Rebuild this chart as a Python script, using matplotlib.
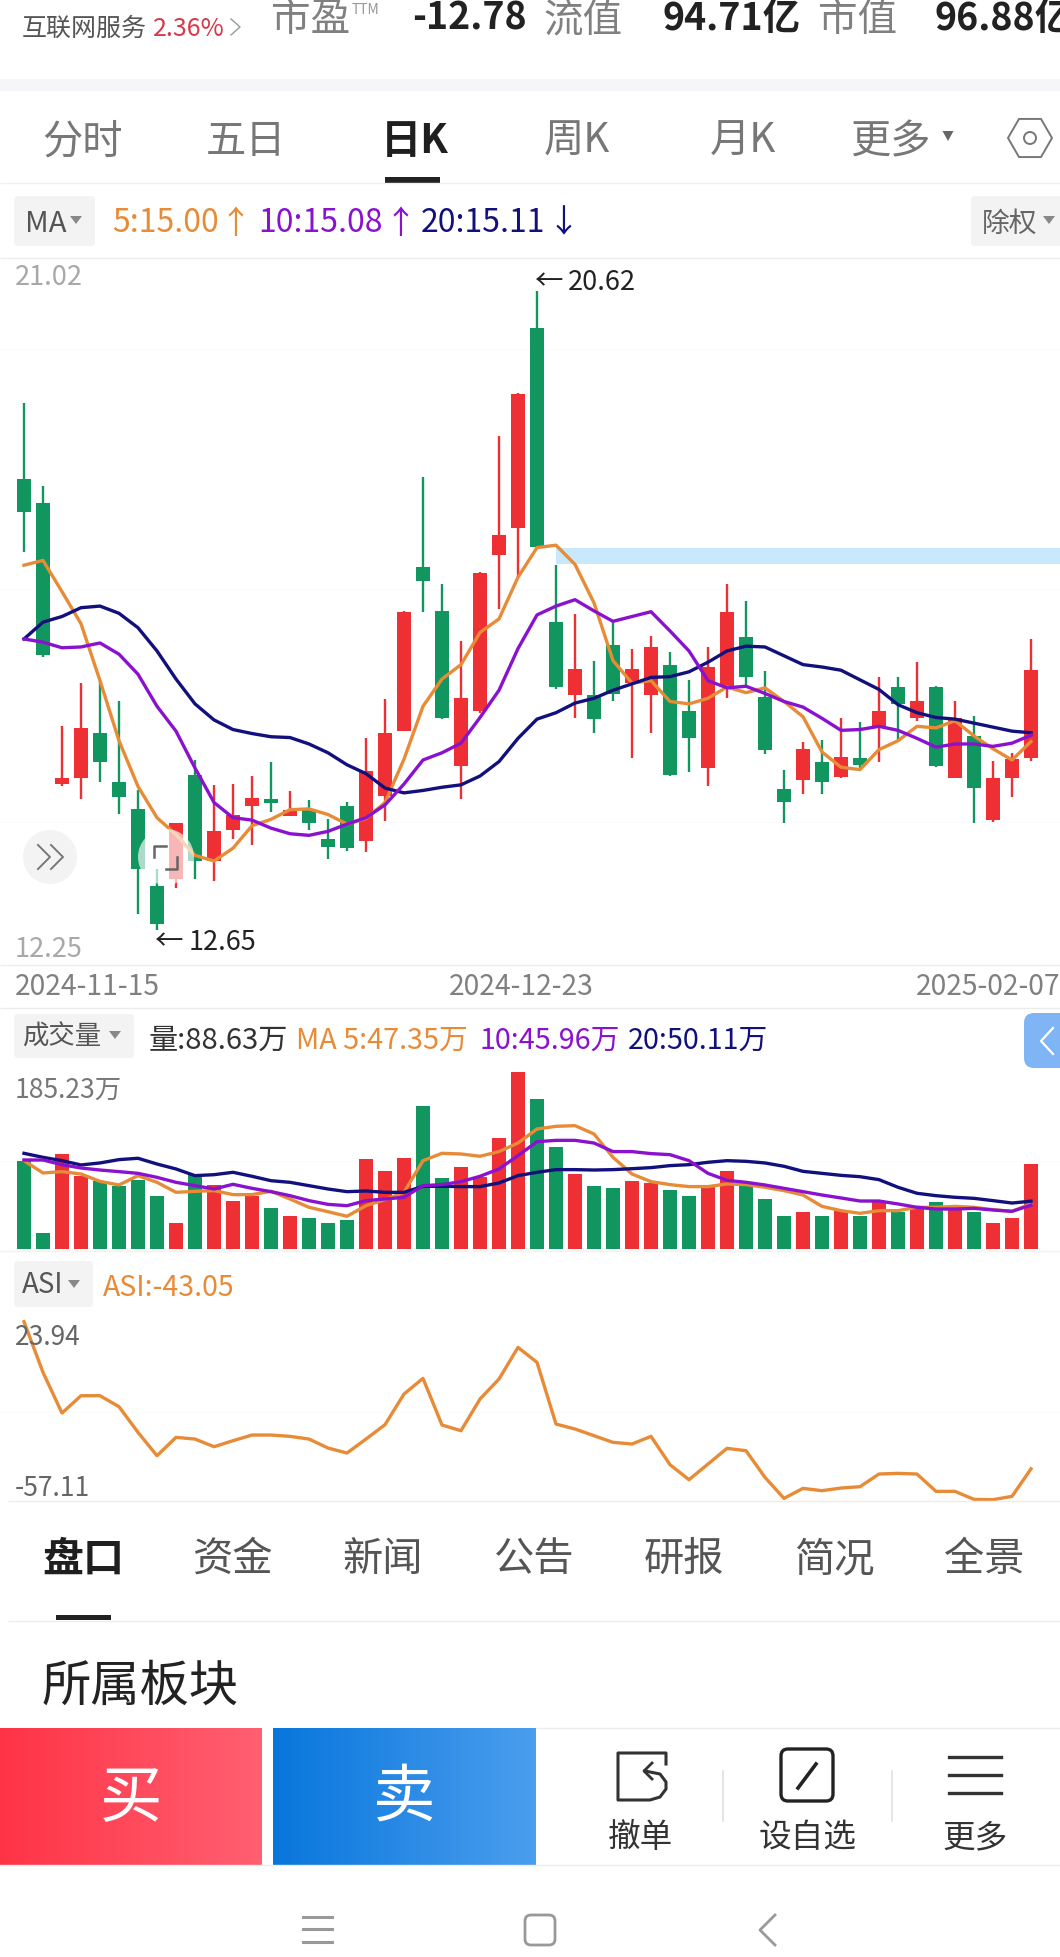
import numpy as np
import matplotlib
matplotlib.use("Agg")
import matplotlib.pyplot as plt
from matplotlib.patches import Rectangle, FancyBboxPatch, Polygon, Circle, RegularPolygon

plt.rcParams['font.family'] = ['Noto Sans CJK SC', 'DejaVu Sans']

# ---------- data ----------
opens = [18.28,17.98,14.47,14.55,15.11,14.50,14.16,13.20,13.28,14.58,13.51,13.90,14.19,14.28,14.07,14.16,13.79,14.19,13.76,14.32,15.13,17.18,16.63,14.69,15.38,17.33,17.67,
         20.16,16.49,15.58,15.58,16.21,15.73,15.58,15.96,15.38,14.67,15.68,16.31,15.56,14.41,14.52,14.75,14.56,14.79,15.18,15.68,15.30,15.68,14.55,15.07,14.02,14.55,14.79]
highs = [19.22,18.19,15.20,15.73,15.76,15.50,14.39,13.41,13.98,14.77,14.46,14.47,14.57,14.74,14.38,14.27,14.04,14.24,15.04,15.53,16.63,18.30,16.96,16.26,17.11,18.81,19.35,
         20.62,17.20,16.59,16.00,16.49,16.15,16.32,16.12,15.77,16.18,16.96,16.75,15.88,14.65,14.99,15.02,15.30,15.25,15.80,15.80,15.99,15.69,15.50,15.32,14.76,14.86,16.28]
lows = [17.36,16.05,14.45,14.28,14.50,14.10,12.85,12.65,13.17,13.29,13.26,13.78,13.71,14.12,14.07,13.90,13.54,13.64,13.62,14.01,15.13,16.62,15.28,14.28,15.36,16.65,17.05,
        17.42,15.66,15.30,15.11,15.51,14.80,15.11,14.57,14.62,14.45,15.54,15.70,14.85,13.98,14.34,14.34,14.54,14.64,14.75,15.02,15.26,14.68,14.54,13.98,14.00,14.31,14.76]
closes = [17.87,16.08,14.55,15.17,14.74,14.31,13.41,12.72,13.98,13.51,13.89,14.09,14.30,14.23,14.15,13.98,13.68,13.67,14.63,15.11,16.62,17.00,15.30,15.54,17.10,17.58,19.34,
          17.43,15.68,15.91,15.28,15.59,15.91,16.18,14.58,15.05,15.93,16.62,15.80,14.90,14.24,14.91,14.49,14.81,14.71,15.38,15.47,15.51,14.69,15.29,14.42,14.55,14.78,15.89]
ma5 = [17.20,17.26,16.87,16.47,15.76,15.01,14.44,14.05,13.84,13.58,13.51,13.67,13.95,14.03,14.15,14.16,14.09,13.97,14.04,14.24,14.78,15.44,15.78,15.96,16.36,16.53,17.05,
       17.42,17.45,17.21,16.73,16.01,15.73,15.76,15.50,15.47,15.54,15.68,15.61,15.67,15.50,15.31,14.87,14.68,14.65,14.90,15.01,15.19,15.17,15.26,15.07,14.91,14.77,15.00]
ma10 = [16.28,16.24,16.17,16.18,16.23,16.09,15.84,15.44,15.13,14.67,14.24,14.05,14.02,13.92,13.85,13.83,13.88,13.97,14.05,14.21,14.47,14.77,14.86,14.98,15.30,15.64,16.16,
        16.58,16.69,16.77,16.63,16.50,16.56,16.62,16.38,16.13,15.76,15.67,15.69,15.60,15.50,15.43,15.29,15.14,15.15,15.19,15.14,15.04,14.93,14.97,14.97,14.94,14.98,15.08]
ma20 = [16.28,16.49,16.56,16.67,16.69,16.60,16.42,16.13,15.78,15.47,15.27,15.15,15.10,15.06,15.05,14.97,14.86,14.71,14.60,14.42,14.36,14.39,14.43,14.46,14.57,14.75,15.04,
        15.28,15.36,15.48,15.54,15.64,15.72,15.80,15.81,15.87,15.99,16.13,16.19,16.18,16.07,15.96,15.93,15.89,15.77,15.65,15.46,15.36,15.30,15.28,15.23,15.18,15.13,15.11]
volume = [92.6,16.4,99.3,76.9,71.6,65.7,72.0,55.2,26.9,77.6,67.5,50.0,55.2,42.6,34.3,32.2,26.9,30.8,94.0,82.1,95.1,149.6,74.8,86.3,75.1,116.0,185.23,
          156.9,106.6,79.0,66.4,63.6,71.6,69.2,61.5,55.2,64.7,82.1,66.4,52.1,34.3,38.4,34.3,39.5,34.3,48.9,38.4,41.9,48.9,41.2,39.1,26.9,32.2,88.63]
vol_ma5 = [92.6,79.7,81.1,78.6,70.9,67.1,76.9,69.9,59.4,60.5,61.2,57.0,57.0,60.5,52.4,43.7,39.1,34.3,45.4,51.7,59.4,92.6,100.3,99.6,97.2,102.1,111.1,
           125.8,128.6,129.3,120.6,96.1,78.6,70.6,67.5,65.4,65.4,68.2,67.5,64.7,61.2,56.6,44.7,40.2,37.4,40.2,40.2,43.7,43.7,44.7,43.7,41.2,39.5,47.35]
vol_ma10 = [93.3,93.3,88.4,84.9,82.8,81.1,79.3,75.1,69.9,66.4,62.9,67.8,63.6,60.1,55.9,50.7,46.8,45.4,50.7,52.4,54.2,66.4,67.5,70.6,76.2,83.9,97.9,
            112.5,113.9,113.9,111.1,102.1,102.1,100.0,98.9,92.6,79.3,72.0,69.9,67.1,63.6,60.1,56.6,53.5,50.3,50.3,47.2,43.7,41.9,41.9,42.6,40.9,39.5,45.96]
vol_ma20 = [100.3,96.1,92.6,88.1,90.2,93.7,95.1,89.1,83.9,76.9,77.9,80.4,76.2,71.6,69.9,66.4,62.9,60.1,60.8,59.4,59.4,65.7,65.7,65.4,65.4,69.2,76.9,
            80.4,83.2,83.2,82.8,83.2,84.2,85.3,87.4,88.4,90.9,92.6,91.9,90.2,86.7,81.4,79.3,77.2,75.8,72.7,64.7,58.4,55.9,54.2,53.1,50.7,48.2,50.11]
asi = [23.94,0.87,-17.65,-9.76,-9.76,-14.76,-26.45,-37.08,-28.73,-29.49,-32.98,-30.25,-27.67,-27.67,-28.27,-29.49,-33.58,-35.86,-29.49,-22.96,-9.0,-1.86,-23.11,-25.69,-11.27,-2.17,12.25,
       5.42,-22.66,-24.93,-27.97,-31.0,-31.76,-28.27,-41.17,-48.0,-40.87,-33.74,-34.8,-46.94,-56.5,-51.95,-53.01,-51.8,-51.19,-45.42,-45.12,-45.42,-53.32,-53.32,-56.96,-57.11,-55.59,-43.05]
gap_band = (17.21, 17.41)
price_limits = (12.25, 21.02)
volume_max = 185.23
asi_limits = (-57.11, 23.94)
date_labels = ['2024-11-15', '2024-12-23', '2025-02-07']

RED, GREEN = '#ee2f33', '#12965f'
ORANGE, PURPLE, NAVY = '#e88b37', '#8a12cf', '#12107c'
W, H = 1060, 1958
X0, STEP = 24.0, 19.0
LINE_W = 2.4
xs = np.arange(len(closes))
xlim = (-X0 / STEP, (W - X0) / STEP)

fig = plt.figure(figsize=(W / 100, H / 100), dpi=100, facecolor='white')


def panel(top, bottom, ylim):
    ax = fig.add_axes([0, 1 - bottom / H, 1, (bottom - top) / H])
    ax.set_xlim(*xlim)
    ax.set_ylim(*ylim)
    ax.axis('off')
    ax.patch.set_alpha(0)
    return ax


colors = [RED if c >= o else GREEN for o, c in zip(opens, closes)]

# price panel
ax = panel(260, 963, price_limits)
for g in (14.0, 16.9, 19.9):
    ax.axhline(g, color='#fbfbfb', lw=0.6, zorder=0)
ax.fill_between([28, xlim[1]], gap_band[0], gap_band[1], color='#c8e8fb', lw=0, zorder=1)
ax.vlines(xs, lows, highs, colors=colors, lw=1.7, zorder=2)
bottoms = np.minimum(opens, closes)
heights = np.abs(np.array(closes) - np.array(opens))
ax.bar(xs, heights, bottom=bottoms, width=0.74, color=colors, lw=0, zorder=3)
ax.plot(xs, ma5, color=ORANGE, lw=LINE_W, zorder=4)
ax.plot(xs, ma20, color=NAVY, lw=LINE_W, zorder=5)
ax.plot(xs, ma10, color=PURPLE, lw=LINE_W, zorder=6)

# volume panel
av = panel(1073.3, 1250, (0, volume_max))
av.axhline(92, color='#fbfbfb', lw=0.6, zorder=0)
av.bar(xs, volume, width=0.74, color=colors, lw=0, zorder=2)
av.plot(xs, vol_ma5, color=ORANGE, lw=LINE_W, zorder=3, clip_on=False)
av.plot(xs, vol_ma20, color=NAVY, lw=LINE_W, zorder=4, clip_on=False)
av.plot(xs, vol_ma10, color=PURPLE, lw=LINE_W, zorder=5, clip_on=False)

# ASI panel
aa = panel(1322.7, 1500.7, asi_limits)
aa.axhline(-17, color='#fbfbfb', lw=0.6, zorder=0)
aa.plot(xs, asi, color=ORANGE, lw=LINE_W, zorder=3, clip_on=False)

# ---------- interface chrome, drawn in pixel space ----------
ui = fig.add_axes([0, 0, 1, 1], zorder=10)
ui.set_xlim(0, W)
ui.set_ylim(H, 0)
ui.axis('off')
ui.patch.set_alpha(0)

DY = 5.5


def t(x, y, s, size, color='#333333', ha='left', va='center', weight='normal', **kw):
    ui.text(x, y + DY, s, fontsize=size, color=color, ha=ha, va=va, fontweight=weight, **kw)


def rect(x0, y0, x1, y1, color, **kw):
    ui.add_patch(Rectangle((x0, y0), x1 - x0, y1 - y0, facecolor=color, edgecolor='none', **kw))


def hline(y, x0=0, x1=W, color='#ececec', lw=1.0):
    ui.plot([x0, x1], [y, y], color=color, lw=lw, solid_capstyle='butt')


def tri(cx, cy, w=12, h=8, color='#888888'):
    ui.add_patch(Polygon([(cx - w / 2, cy - h / 2), (cx + w / 2, cy - h / 2), (cx, cy + h / 2)], facecolor=color, edgecolor='none'))


def box(x0, y0, x1, y1, color='#f3f3f3', r=4, ec='none', lw=0, **kw):
    ui.add_patch(FancyBboxPatch((x0 + r, y0 + r), x1 - x0 - 2 * r, y1 - y0 - 2 * r, boxstyle=f'round,pad={r},rounding_size={r}',
                                facecolor=color, edgecolor=ec, lw=lw, **kw))


def gradient(x0, y0, x1, y1, c0, c1):
    rgb0 = np.array(matplotlib.colors.to_rgb(c0))
    rgb1 = np.array(matplotlib.colors.to_rgb(c1))
    f = np.linspace(0, 1, 256)[None, :, None]
    ui.imshow(rgb0 + (rgb1 - rgb0) * f, extent=(x0, x1, y1, y0), aspect='auto', zorder=1)


# top strip
t(22, 23, '互联网服务', 18, '#555555')
t(153, 23, '2.36%', 18, '#d8394a')
ui.plot([231, 240, 231], [20, 28, 36], color='#999999', lw=1)
t(271, 15, '市盈', 28.5, '#808080')
t(352, 4, 'TTM', 10, '#999999')
t(412, 13, '-12.78', 27, '#222222', weight='bold')
t(543, 15, '流值', 28.5, '#808080')
t(662, 13, '94.71亿', 27, '#222222', weight='bold')
t(818, 15, '市值', 28.5, '#808080')
t(935, 13, '96.88亿', 27, '#222222', weight='bold')
rect(0, 80, W, 92, '#f6f6f8')

# period tabs
for x, s in [(82, '分时'), (246, '五日'), (577, '周K'), (743, '月K'), (890, '更多')]:
    t(x, 136, s, 29, '#777777', ha='center')
t(415, 136, '日K', 29, '#1f1f1f', ha='center', weight='bold')
tri(948, 137, 11, 10, '#666666')
ui.add_patch(RegularPolygon((1030, 139), 6, radius=22, orientation=np.pi / 6, facecolor='none', edgecolor='#777777', lw=1.4))
ui.add_patch(Circle((1030, 139), 6, facecolor='none', edgecolor='#777777', lw=1.4))
rect(385, 178, 440, 184, '#222222')
hline(184, color='#f0f0f0')

# MA row
box(14, 197, 95, 247)
t(25, 219, 'MA', 21, '#555555')
tri(76, 221)
t(112, 218, '5:15.00', 23, ORANGE, weight='medium')
t(219, 218, '↑', 23, ORANGE)
t(258, 218, '10:15.08', 23, PURPLE, weight='medium')
t(384, 218, '↑', 23, PURPLE)
t(421, 218, '20:15.11', 23, NAVY, weight='medium')
t(547, 218, '↓', 23, NAVY)
box(971, 197, 1070, 247)
t(982, 218, '除权', 20, '#666666')
tri(1049, 221)
hline(259)

# price labels
t(15, 272, f'{price_limits[1]:.2f}', 19.5, '#a8a8a8')
t(15, 944, f'{price_limits[0]:.2f}', 19.5, '#a8a8a8')
t(535, 277, '←', 20.5, '#222222')
t(568, 277, f'{max(highs):.2f}', 19.5, '#222222')
t(155, 937, '←', 20.5, '#222222')
t(189, 937, f'{min(lows):.2f}', 19.5, '#222222')
hline(966)

# floating buttons
ui.add_patch(Circle((50, 858), 27, facecolor='#f2f2f2', edgecolor='none', alpha=0.9))
for dx in (0, 13):
    ui.plot([38 + dx, 50 + dx, 38 + dx], [846, 858, 870], color='#777777', lw=1.4)
ui.add_patch(Circle((166, 858), 28, facecolor='white', edgecolor='none', alpha=0.65, zorder=7))
ui.plot([154, 154, 166], [858, 847, 847], color='#666666', lw=1.8, zorder=8)
ui.plot([177, 177, 166], [858, 870, 870], color='#666666', lw=1.8, zorder=8)

# date row
for x, s in zip((15, 449, 916), date_labels):
    t(x, 982, s, 20.3, '#808080')
hline(1009)

# volume header
box(14, 1015, 134, 1059)
t(22, 1032, '成交量', 19, '#555555')
tri(115, 1036)
t(149, 1035, f'量:{volume[-1]:.2f}万', 21, '#333333')
t(296, 1035, f'MA 5:{vol_ma5[-1]:.2f}万', 20.7, ORANGE)
t(480, 1035, f'10:{vol_ma10[-1]:.2f}万', 20.7, PURPLE)
t(628, 1035, f'20:{vol_ma20[-1]:.2f}万', 20.7, NAVY)
box(1024, 1014, 1080, 1069, '#7fb5f5', r=10)
ui.plot([1053, 1041, 1053], [1029, 1042, 1055], color='white', lw=1.6)
t(15, 1085, f'{volume_max:.2f}万', 19, '#777777')
hline(1252, x0=0, color='#f2f2f2')

# ASI header
box(14, 1262, 93, 1308)
t(22, 1280, 'ASI', 20, '#555555')
tri(74, 1285)
t(103, 1283, f'ASI:{asi[-1]:.2f}', 20.5, ORANGE)
t(15, 1332, f'{asi_limits[1]:.2f}', 19, '#666666')
t(15, 1483, f'{asi_limits[0]:.2f}', 19, '#666666')
hline(1502, x0=8)

# content tabs
t(83, 1554, '盘口', 29.5, '#1f1f1f', ha='center', weight='bold')
for x, s in [(233, '资金'), (383, '新闻'), (534, '公告'), (684, '研报'), (834, '简况'), (984, '全景')]:
    t(x, 1554, s, 29, '#555555', ha='center')
rect(56, 1616, 111, 1621, '#222222')
hline(1622, x0=8)
t(42, 1681, '所属板块', 35.5, '#222222')

# bottom action bar
hline(1729, x0=536)
hline(1866)
gradient(0, 1729, 262, 1866, '#ff3346', '#ff6072')
gradient(273, 1729, 536, 1866, '#0876dc', '#4b9eee')
t(131, 1794, '买', 45, 'white', ha='center', zorder=3)
t(404, 1792, '卖', 45, 'white', ha='center', zorder=3)

# undo icon
ui.plot([666, 666, 618, 618, 650, 660, 666, 666, 660, 645],
        [1765, 1754, 1754, 1801, 1801, 1798, 1790, 1783, 1775, 1772], color='#333333', lw=2.2)
ui.plot([652, 644, 652], [1764, 1772, 1780], color='#333333', lw=2)
t(640, 1833, '撤单', 23.5, '#333333', ha='center')
# edit icon
box(781, 1750, 833, 1802, 'white', r=7, ec='#222222', lw=2.4)
ui.plot([798, 816], [1789, 1765], color='#222222', lw=2.6)
t(808, 1833, '设自选', 23.5, '#333333', ha='center')
# menu icon
for y in (1758, 1776, 1794):
    ui.plot([949, 1001], [y, y], color='#333333', lw=2.4)
t(975, 1833, '更多', 23.5, '#333333', ha='center')
for x in (723, 892):
    ui.plot([x, x], [1772, 1822], color='#e0e0e0', lw=1.2)

# navigation bar
for y in (1918, 1930, 1943):
    ui.plot([303, 332], [y, y], color='#999999', lw=2.2)
box(525, 1916, 555, 1946, 'white', r=6, ec='#999999', lw=2)
ui.plot([775, 760, 775], [1916, 1931, 1946], color='#999999', lw=2)

ui.set_xlim(0, W)
ui.set_ylim(H, 0)
fig.savefig('out.png', dpi=100, facecolor='white')
